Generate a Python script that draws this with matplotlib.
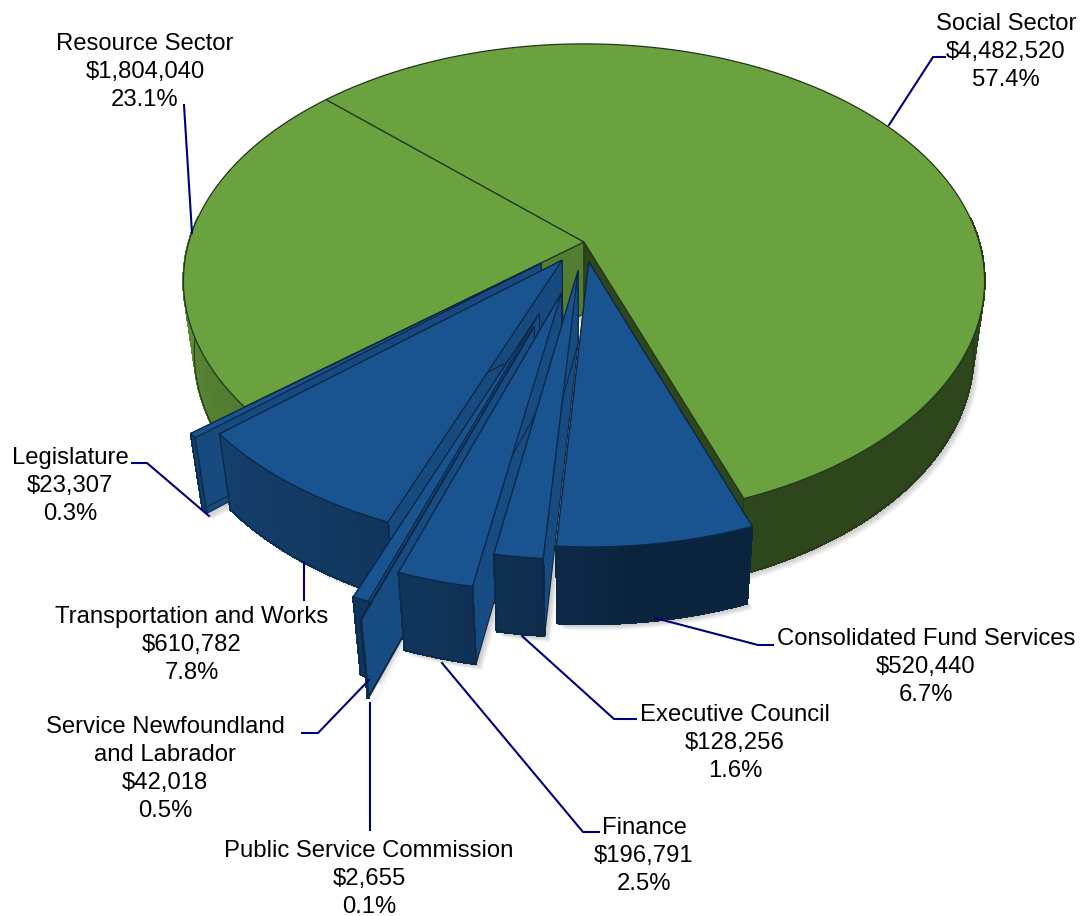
import numpy as np
import matplotlib
matplotlib.use('Agg')
import matplotlib.pyplot as plt
from matplotlib.patches import Polygon


### Data ---------------------------------------------------------------------

# clockwise from the Social / Resource boundary
sectors = ['Social Sector', 'Consolidated Fund Services', 'Executive Council', 'Finance',
	'Public Service Commission', 'Service Newfoundland\nand Labrador',
	'Transportation and Works', 'Legislature', 'Resource Sector']
amounts = [4482520, 520440, 128256, 196791, 2655, 42018, 610782, 23307, 1804040]
amount_labels = ['$4,482,520', '$520,440', '$128,256', '$196,791', '$2,655', '$42,018',
	'$610,782', '$23,307', '$1,804,040']
percent_labels = ['57.4%', '6.7%', '1.6%', '2.5%', '0.1%', '0.5%', '7.8%', '0.3%', '23.1%']


### Styling and layout -------------------------------------------------------

explode = [0, 0.086, 0.122, 0.22, 0.365, 0.313, 0.095, 0.14, 0]
is_green = [True, False, False, False, False, False, False, False, True]
draw_order = [8, 0, 7, 6, 5, 4, 3, 2, 1]
start_angle = -46.6

green_top = np.array([0x6a, 0xa2, 0x40]) / 255
blue_top = np.array([0x1a, 0x54, 0x90]) / 255
green_edge = '#24361a'
blue_edge = '#0a2747'
leader_col = '#00007a'

# shade of the cut faces: (start side, end side); None = joined to the neighbour
cut_shade = [(None, 0.43), (0.9, 0.9), (0.9, 0.9), (0.9, 0.9), (0.9, 0.9), (0.9, 0.9),
	(0.88, 0.88), (0.88, 0.88), (0.78, None)]

label_xy = [(1006, 52), (926, 667), (735, 743), (644, 856), (369, 879), (165, 769),
	(192, 645), (70, 486), (145, 72)]
leaders = [
	[(889, 125), (933, 57), (945, 57)],
	[(655, 618), (758, 645), (773, 645)],
	[(522, 636), (614, 719), (636, 719)],
	[(442, 663), (583, 832), (599, 832)],
	[(370, 703), (370, 830)],
	[(369, 680), (318, 733), (302, 733)],
	[(304, 562), (304, 600)],
	[(209, 516), (147, 463), (132, 463)],
	[(192, 233), (184, 105)],
]

# pinhole camera looking down on a unit disc
cam_dist = 4.93
focal = 1948.
sin_el, cos_el = 0.584, 0.812
cx, cy = 584., 242.
height = 0.23


def project(X, Y, Z):
	d = cam_dist + Y*cos_el - Z*sin_el
	return cx + focal*X/d, cy - focal*(Y*sin_el + Z*cos_el)/d


def xy(X, Y, Z):
	return np.column_stack(project(np.asarray(X), np.asarray(Y), np.full_like(np.asarray(X, dtype=float), Z)))


def wall_shade(angle):
	return np.interp(angle, [100, 175, 195, 230, 270], [0.43, 0.43, 0.62, 0.75, 0.88])


### Draw ---------------------------------------------------------------------

plt.rcParams['font.family'] = ['Liberation Sans', 'DejaVu Sans']

fig = plt.figure(figsize=(10.81, 9.16), dpi=100)
ax = fig.add_axes([0, 0, 1, 1])
ax.set_xlim(0, 1081)
ax.set_ylim(916, 0)
ax.axis('off')

fracs = np.array(amounts) / float(sum(amounts))
ends = start_angle + np.cumsum(fracs)*360
starts = ends - fracs*360

# soft shadow goes under everything
for i in draw_order:
	th = np.radians(np.linspace(starts[i], ends[i], 120))
	mid = np.radians((starts[i] + ends[i])/2)
	sx, sy = explode[i]*np.sin(mid), explode[i]*np.cos(mid)
	X = np.concatenate(([sx], sx + np.sin(th)))
	Y = np.concatenate(([sy], sy + np.cos(th)))
	base = xy(X, Y, -height)
	for off in range(1, 8):
		ax.add_patch(Polygon(base + [off*0.9, off*0.9], closed=True, fc='black', ec='none',
			alpha=0.035, zorder=1))

z = 2
for i in draw_order:
	top_col = green_top if is_green[i] else blue_top
	edge_col = green_edge if is_green[i] else blue_edge
	mid = np.radians((starts[i] + ends[i])/2)
	sx, sy = explode[i]*np.sin(mid), explode[i]*np.cos(mid)

	deg = np.linspace(starts[i], ends[i], max(int(fracs[i]*360), 3) + 1)
	th = np.radians(deg)
	X = sx + np.sin(th)
	Y = sy + np.cos(th)
	top = xy(X, Y, 0)
	bot = xy(X, Y, -height)
	apex_top = xy([sx], [sy], 0)
	apex_bot = xy([sx], [sy], -height)

	# cut faces either side of the slice
	for k, shade in zip((0, -1), cut_shade[i]):
		if shade is None:
			continue
		face = np.vstack((apex_top, top[k], bot[k], apex_bot))
		ax.add_patch(Polygon(face, closed=True, fc=top_col*shade, ec=edge_col, lw=0.8, zorder=z))
		z += 1

	# outer wall, shaded strip by strip
	for j in range(len(deg) - 1):
		if Y[j] > 0.1 and Y[j+1] > 0.1:
			continue
		strip = np.vstack((top[j], top[j+1], bot[j+1], bot[j]))
		col = top_col*wall_shade(((deg[j] + deg[j+1])/2) % 360)
		ax.add_patch(Polygon(strip, closed=True, fc=col, ec=col, lw=1.0, antialiased=False, zorder=z))
		z += 1
	low = Y <= 0.1
	if low.any():
		ax.plot(bot[low, 0], bot[low, 1], color=edge_col, lw=0.8, zorder=z)
		z += 1
		for k in (0, -1):
			if low[k]:
				ax.plot([top[k, 0], bot[k, 0]], [top[k, 1], bot[k, 1]], color=edge_col, lw=0.8, zorder=z)
				z += 1

	outline = np.vstack((apex_top, top))
	ax.add_patch(Polygon(outline, closed=True, fc=top_col, ec=edge_col, lw=0.9, zorder=z))
	z += 1

for pts in leaders:
	pts = np.array(pts)
	ax.plot(pts[:, 0], pts[:, 1], color=leader_col, lw=1.5, zorder=z, solid_joinstyle='round')

for name, amt, pct, pos in zip(sectors, amount_labels, percent_labels, label_xy):
	ax.text(pos[0], pos[1], '%s\n%s\n%s' % (name, amt.replace('$', r'\$'), pct), ha='center', va='center',
		fontsize=17.2, color='black', linespacing=1.36, zorder=z + 1)

fig.savefig('out.png', dpi=100)
